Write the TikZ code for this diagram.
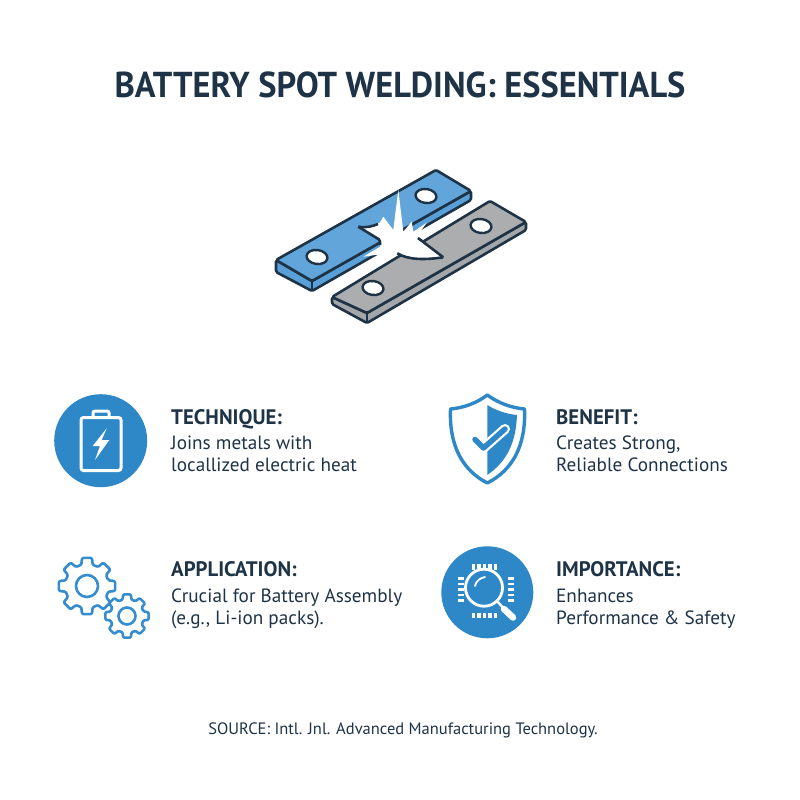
\documentclass[tikz,border=0pt]{standalone}
\usepackage{fontspec}
\setmainfont{PT Sans}
\definecolor{navy}{HTML}{1F3347}
\definecolor{iconblue}{HTML}{2E88C8}
\definecolor{lineblue}{HTML}{358CCE}
\definecolor{plateblue}{HTML}{62A5DB}
\definecolor{plateblue2}{HTML}{5AA0D8}
\definecolor{plategray}{HTML}{ABADAF}
\definecolor{plategray2}{HTML}{A4A7AA}
\tikzset{
  titletext/.style={font=\fontsize{36}{40}\selectfont\bfseries\addfontfeatures{FakeStretch=0.955},text=navy,inner sep=0pt},
  headtext/.style={font=\fontsize{21}{24}\selectfont\bfseries\addfontfeatures{FakeStretch=0.99},text=navy,inner sep=0pt,anchor=base west},
  bodytext/.style={font=\fontsize{19.2}{22}\selectfont,text=navy,inner sep=0pt,anchor=base west},
  sourcetext/.style={font=\fontsize{16.5}{20}\selectfont,text=navy,inner sep=0pt},
  plateline/.style={draw=navy,line width=2.6pt,line join=round,rounded corners=1.5pt},
  hole/.style={draw=navy,line width=2.4pt,fill=white},
  gearline/.style={draw=lineblue,line width=2.6pt,line join=round,fill=white},
}
% centre x, centre y, outer, root, start angle
\newcommand{\geardraw}[5]{%
  \draw[gearline,rounded corners=1.2pt]
    ({#1+#4*cos(#5-15)},{#2+#4*sin(#5-15)})
    \foreach \k in {0,...,7}{
      -- ({#1+#3*cos(#5+45*\k-10)},{#2+#3*sin(#5+45*\k-10)})
      -- ({#1+#3*cos(#5+45*\k+10)},{#2+#3*sin(#5+45*\k+10)})
      -- ({#1+#4*cos(#5+45*\k+15)},{#2+#4*sin(#5+45*\k+15)})
      -- ({#1+#4*cos(#5+45*\k+30)},{#2+#4*sin(#5+45*\k+30)})
    } -- cycle;
}
\begin{document}
\begin{tikzpicture}[x=1pt,y=-1pt]
\useasboundingbox (0,0) rectangle (800,800);
\fill[white] (0,0) rectangle (800,800);

\node[titletext] (title) at (400,85) {BATTERY SPOT WELDING: ESSENTIALS};

% blue plate
\path[fill=plateblue2,plateline] (276,260) -- (276,272) -- (312,291) -- (471,200) -- (471,191) -- (312,281) -- cycle;
\path[fill=plateblue,plateline] (276,260) -- (436,170) -- (471,191) -- (312,281) -- cycle;
\draw[plateline] (312,281) -- (312,291);
% gray plate
\path[fill=plategray2,plateline] (332,297) -- (332,304) -- (367,323) -- (526,230) -- (526,222) -- (367,313) -- cycle;
\path[fill=plategray,plateline] (332,297) -- (490,201) -- (526,222) -- (367,313) -- cycle;
\draw[plateline] (367,313) -- (367,323);
% holes
\foreach \hx/\hy in {317/257,426/196,373/288,481/226}{
  \draw[hole,rotate around={-8:(\hx,\hy)}] (\hx,\hy) ellipse (10.5 and 7);
}
% spark
\fill[white] (358.3,226.7) .. controls (366,228) and (374,226) .. (380,222.5) -- (383.3,216.7) -- (393.3,230)
  -- (398.3,190) -- (403.3,231.7) -- (411.7,221.7) -- (413.3,231.7) -- (426.7,222.7) -- (416.7,236.7)
  -- (443.3,257.3) .. controls (425,261) and (408,260) .. (397.3,253.3)
  -- (375,255) -- (363.3,256.7) -- (380,246.7) -- (380,240) -- cycle;
% notch outlines
\draw[plateline] (358.3,226.7) .. controls (366,228) and (372,226.5) .. (378,224);
\draw[plateline] (358.3,226.7) -- (380,240) -- (380,245);
\draw[plateline] (397.3,253.3) .. controls (408,260) and (425,260) .. (443.3,257.3);
\draw[plateline] (443.3,257.3) -- (418,238);

% Technique
\fill[iconblue] (100.7,440.7) circle (46.5);
\draw[white,line width=3pt,rounded corners=2.5pt] (81,417.5) rectangle (121,470.5);
\draw[white,line width=3pt,rounded corners=2pt] (93,417.5) -- (93,411) -- (109,411) -- (109,417.5);
\fill[white] (106.7,428.3) -- (92.7,446) -- (100,446) -- (95,460) -- (109.3,440) -- (101.7,440) -- cycle;
\node[headtext] (h1) at (171,424) {TECHNIQUE:};
\node[bodytext] (b1a) at (171,449) {Joins metals with};
\node[bodytext] (b1b) at (171,471) {locallized electric heat};

% Benefit: shield
\draw[iconblue,line width=3.4pt,line join=round,fill=white] (487.3,395) .. controls (498,403) and (512,408) .. (524.5,409)
  .. controls (526,445) and (513,470) .. (487.3,483)
  .. controls (462,470) and (449,445) .. (450.5,409)
  .. controls (463,408) and (477,403) .. (487.3,395) -- cycle;
\fill[iconblue] (487.3,405) .. controls (497,411) and (507,414) .. (517,415)
  .. controls (516,444) and (506,462) .. (487.3,475) -- cycle;
\draw[white,line width=10pt,line cap=round,line join=round] (475,439.5) -- (483.5,448) -- (505,429);
\draw[iconblue,line width=5.5pt,line cap=round,line join=round] (475,439.5) -- (483.5,448) -- (505,429);
\node[headtext] (h2) at (556,424) {BENEFIT:};
\node[bodytext] (b2a) at (556,449) {Creates Strong,};
\node[bodytext] (b2b) at (556,471) {Reliable Connections};

% Application: gears
\geardraw{87}{586}{28.5}{22}{0}
\draw[lineblue,line width=2.6pt] (87,586) circle (11);
\geardraw{127}{616}{22}{17}{0}
\draw[lineblue,line width=2.6pt] (127,616) circle (8.5);
\node[headtext] (h3) at (171,576) {APPLICATION:};
\node[bodytext] (b3a) at (171,602) {Crucial for Battery Assembly};
\node[bodytext] (b3b) at (171,624) {(e.g., Li-ion packs).};

% Importance
\fill[iconblue] (487.3,592.3) circle (46);
\foreach \d in {-22,-11,0,11,22}{
  \fill[white] (484.5+\d/2-1.6,564) rectangle ++(3.2,5.5);
  \fill[white] (484.5+\d/2-1.6,612.5) rectangle ++(3.2,5.5);
  \fill[white] (458,589.5+\d/2-1.4) rectangle ++(5.7,2.8);
  \fill[white] (508.3,589.5+\d/2-1.4) rectangle ++(5.7,2.8);
}
\draw[white,line width=2.8pt,fill=iconblue] (484,587.7) circle (18.5);
\draw[white,line width=1.8pt,line cap=round] (475,586) .. controls (476,581) and (480,578) .. (485,577);
\draw[white,line width=2.4pt] (497,601) -- (505,610);
\draw[white,line width=6.5pt,line cap=round] (504,609) -- (513,617.5);
\node[headtext] (h4) at (556,576) {IMPORTANCE:};
\node[bodytext] (b4a) at (556,602) {Enhances};
\node[bodytext] (b4b) at (556,624) {Performance \& Safety};

\node[sourcetext] (src) at (403,730) {SOURCE: Intl. Jnl. Advanced Manufacturing Technology.};
\end{tikzpicture}
\end{document}
